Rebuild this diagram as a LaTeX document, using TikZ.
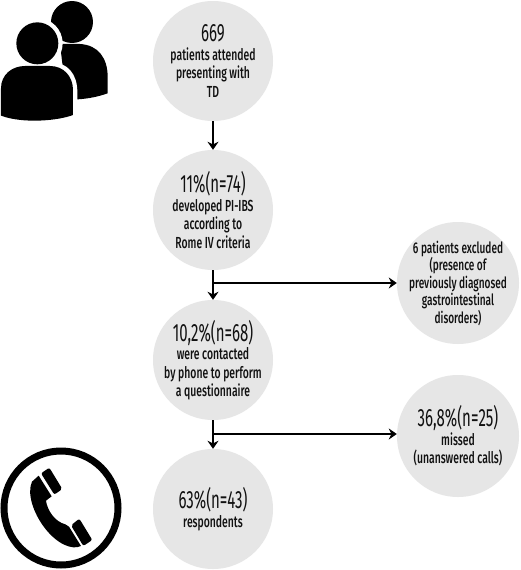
\documentclass[tikz,border=0pt]{standalone}
\usepackage{fontspec}
\setmainfont[FakeStretch=0.65]{Fira Sans Medium}
\newfontfamily\headfont[FakeStretch=0.6]{Fira Sans}
\usetikzlibrary{arrows.meta}
\definecolor{discgray}{HTML}{E6E6E6}
\definecolor{ink}{HTML}{111111}
\newcommand{\headline}[1]{{\headfont\fontsize{25}{24}\selectfont #1}}
\tikzset{
  x=1pt,y=-1pt,
  disc/.style={circle,fill=discgray,minimum size=#1,inner sep=-40pt,align=center,text=ink,font=\fontsize{16}{18.5}\selectfont},
  disc/.default=120pt,
  flow/.style={draw=black,line width=2.2pt,-{Stealth[length=8pt,width=11pt]}},
  glyph/.style={fill=black,draw=none}
}
\begin{document}
\begin{tikzpicture}
\useasboundingbox (0,0) rectangle (520,570);
\fill[white] (0,0) rectangle (520,570);
\node[disc] (c1) at (213,61) {\headline{669}\\patients attended\\presenting with\\TD};
\node[disc] (c2) at (213,210) {\headline{11\%(n=74)}\\developed PI-IBS\\according to\\Rome IV criteria};
\node[disc] (c3) at (213,360) {\headline{10,2\%(n=68)}\\were contacted\\by phone to perform\\a questionnaire};
\node[disc] (c4) at (213,509) {\headline{63\%(n=43)}\\respondents};
\node[disc=122pt,font=\fontsize{15.5}{17.5}\selectfont] (c5) at (458,283) {6 patients excluded\\(presence of\\previously diagnosed\\gastrointestinal\\disorders)};
\node[disc=122pt] (c6) at (458,436) {\headline{36,8\%(n=25)}\\missed\\(unanswered calls)};
\coordinate (b1) at (214,283);
\coordinate (b2) at (214,434);
\draw[flow] (c1) -- (c2);
\draw[flow] (c2) -- (c3);
\draw[flow] (c3) -- (c4);
\draw[flow] (b1) -- (c5);
\draw[flow] (b2) -- (b2 -| c6.west);
% people icon
\begin{scope}[x=0.3333pt,y=-0.3333pt]
\fill[glyph] (216,66) circle[radius=63];
\fill[glyph] (180,132) -- (240,132) .. controls (295,135) and (323,175) .. (323,230) -- (323,280) .. controls (295,290) and (265,296) .. (234,298) -- (200,298) -- cycle;
\fill[white] (112,130) circle[radius=76];
\fill[white] (3,350) -- (3,260) .. controls (3,210) and (30,186) .. (75,186) -- (150,186) .. controls (205,186) and (232,225) .. (232,275) -- (232,360) -- cycle;
\fill[glyph] (112,130) circle[radius=63];
\fill[glyph] (3,347) -- (3,265) .. controls (3,225) and (35,198) .. (75,198) -- (150,198) .. controls (190,198) and (219,228) .. (219,270) -- (219,345) .. controls (175,362) and (70,372) .. (3,347) -- cycle;
\end{scope}
% phone icon
\draw[black,line width=7pt] (61,508) circle[radius=57];
\begin{scope}[shift={(0,420)},x=0.3333pt,y=-0.3333pt]
\fill[glyph,rounded corners=2pt] (148,143) -- (187,207) -- (163,224) -- (123,160) -- cycle;
\fill[glyph,rounded corners=2pt] (238,296) -- (277,360) -- (250,378) -- (213,316) -- cycle;
\fill[glyph] (116,167) -- (155,229) -- (138,242) .. controls (142,272) and (165,305) .. (196,313) -- (207,320) -- (243,378) .. controls (215,392) and (170,370) .. (135,325) .. controls (100,280) and (80,220) .. (96,185) -- cycle;
\end{scope}
\end{tikzpicture}
\end{document}
